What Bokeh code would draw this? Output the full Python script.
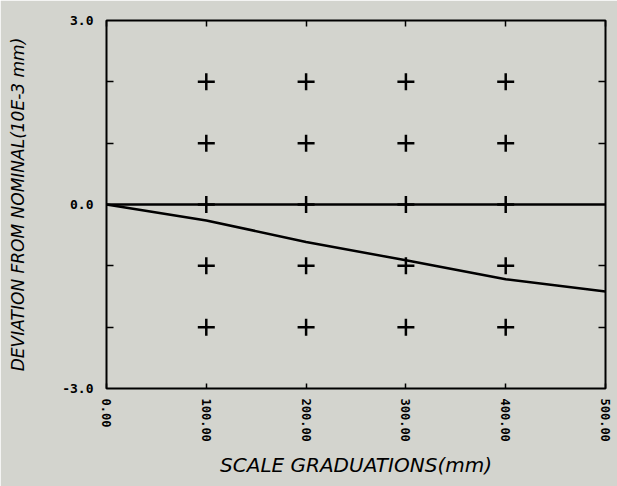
import math
from bokeh.plotting import figure
from bokeh.models import FixedTicker, LinearAxis, Range1d, Span
from bokeh.embed import file_html
from bokeh.resources import INLINE

# ---- data ----
scale_mm = [0, 100, 200, 300, 400, 500]
deviation = [0.0, -0.26, -0.61, -0.91, -1.22, -1.42]
x_tick_values = [0, 100, 200, 300, 400, 500]
x_tick_labels = ["0.00", "100.00", "200.00", "300.00", "400.00", "500.00"]
y_tick_values = [-3, 0, 3]
y_tick_labels = ["-3.0", "0.0", "3.0"]
y_minor_values = [-2, -1, 1, 2]
grid_x = [100, 200, 300, 400]
grid_y = [-2, -1, 0, 1, 2]

BG = "#d3d4ce"

p = figure(width=617, height=486, output_backend="svg", toolbar_location=None,
           x_range=Range1d(0, 500), y_range=Range1d(-3, 3),
           min_border_left=106, min_border_right=12, min_border_top=20,
           min_border_bottom=98, x_axis_label="SCALE GRADUATIONS(mm)",
           y_axis_label="DEVIATION FROM NOMINAL(10E-3 mm)")
p.background_fill_color = BG
p.border_fill_color = BG
p.outline_line_color = "black"
p.outline_line_width = 2
p.xgrid.visible = False
p.ygrid.visible = False

# bottom axis
xa = p.xaxis[0]
xa.ticker = FixedTicker(ticks=x_tick_values, minor_ticks=[])
xa.major_label_overrides = {v: l for v, l in zip(x_tick_values, x_tick_labels)}
xa.major_label_orientation = -math.pi / 2
xa.major_label_text_font = "DejaVu Sans Mono"
xa.major_label_text_font_style = "bold"
xa.major_label_text_font_size = "12px"
xa.major_label_text_color = "black"
xa.major_label_standoff = 10
xa.major_tick_in = 5
xa.major_tick_out = 0
xa.major_tick_line_width = 1.5
xa.minor_tick_line_color = None
xa.axis_line_color = None
xa.axis_label_text_font = "DejaVu Sans"
xa.axis_label_text_font_style = "italic"
xa.axis_label_text_font_size = "20px"
xa.axis_label_text_color = "black"
xa.axis_label_standoff = 8

# left axis
ya = p.yaxis[0]
ya.ticker = FixedTicker(ticks=y_tick_values, minor_ticks=y_minor_values)
ya.major_label_overrides = {v: l for v, l in zip(y_tick_values, y_tick_labels)}
ya.major_label_text_font = "DejaVu Sans Mono"
ya.major_label_text_font_style = "bold"
ya.major_label_text_font_size = "13px"
ya.major_label_text_color = "black"
ya.major_label_standoff = 13
ya.major_tick_in = 0
ya.major_tick_out = 0
ya.minor_tick_in = 7
ya.minor_tick_out = 0
ya.minor_tick_line_width = 1.5
ya.axis_line_color = None
ya.axis_label_text_font = "DejaVu Sans"
ya.axis_label_text_font_style = "italic"
ya.axis_label_text_font_size = "17px"
ya.axis_label_text_color = "black"
ya.axis_label_standoff = 31

# top axis (ticks only)
top = LinearAxis(ticker=FixedTicker(ticks=x_tick_values, minor_ticks=[]),
                 major_label_text_color=None, major_label_text_font_size="1px",
                 major_tick_in=6, major_tick_out=0, major_tick_line_width=1.5,
                 minor_tick_line_color=None, axis_line_color=None,
                 major_label_standoff=0)
p.add_layout(top, "above")

# right axis (ticks only)
right = LinearAxis(ticker=FixedTicker(ticks=y_tick_values, minor_ticks=y_minor_values),
                   major_label_text_color=None, major_label_text_font_size="1px",
                   major_tick_in=0, major_tick_out=0, minor_tick_in=7,
                   minor_tick_out=0, minor_tick_line_width=1.5,
                   axis_line_color=None, major_label_standoff=0)
p.add_layout(right, "right")

# zero line
p.add_layout(Span(location=0, dimension="width", line_color="black", line_width=2.5))

# crosses
cx = [x for x in grid_x for _ in grid_y]
cy = [y for _ in grid_x for y in grid_y]
p.scatter(cx, cy, marker="cross", size=17, line_color="black", line_width=2.5)

# deviation curve
p.line(scale_mm, deviation, line_color="black", line_width=2.5)

open("out.html", "w").write(file_html(p, INLINE))
